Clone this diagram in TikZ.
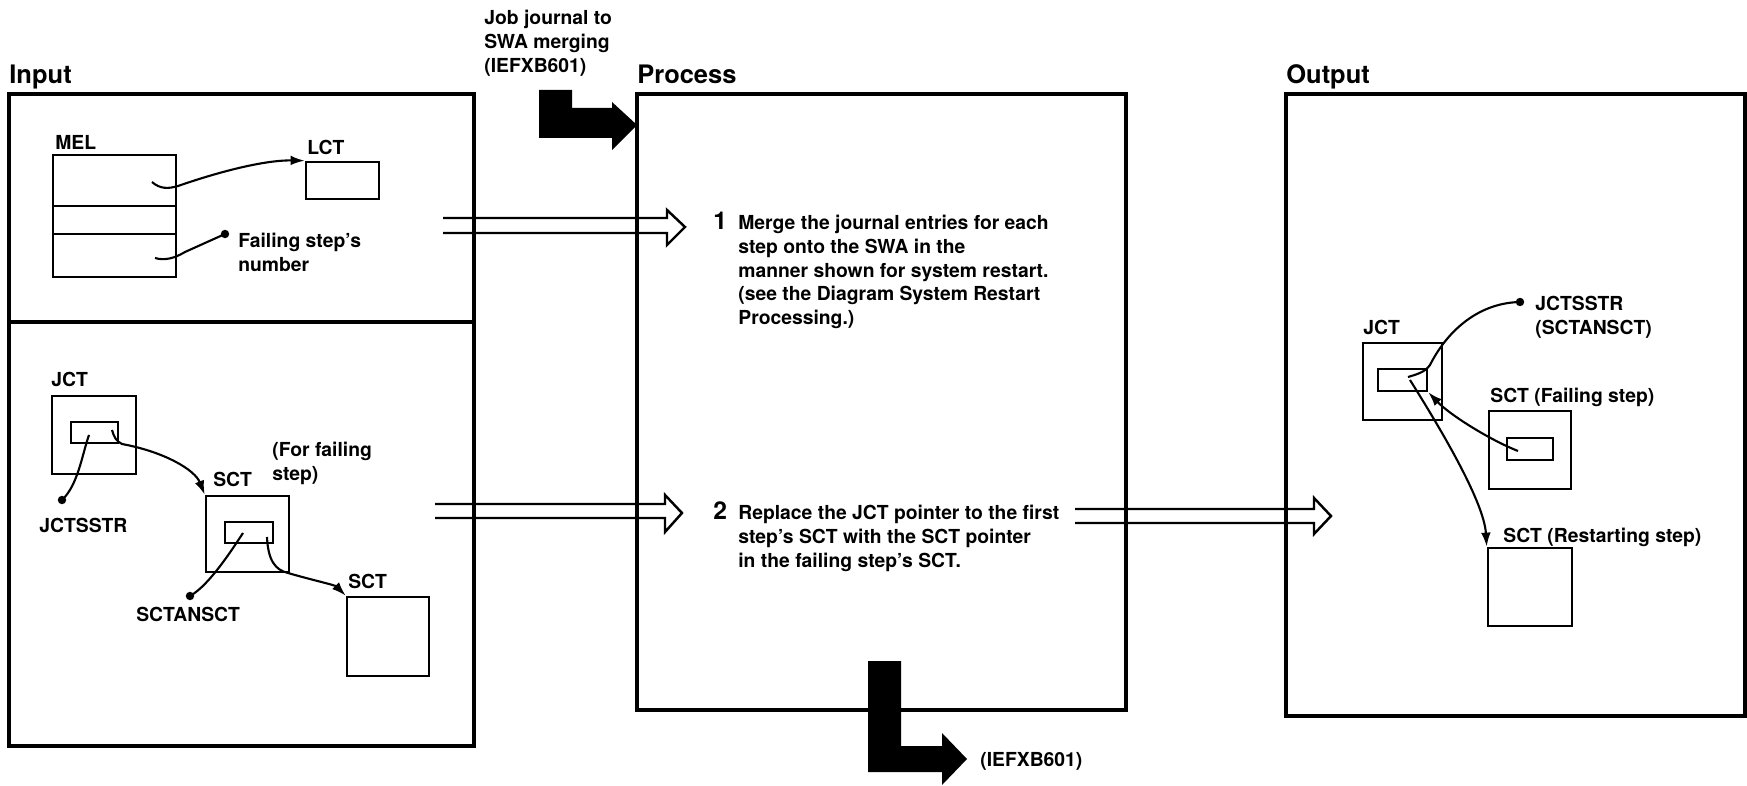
\documentclass[tikz,border=0pt]{standalone}
\usepackage{fontspec}
\setmainfont{TeX Gyre Heros}
\usepackage{tikz}
\usetikzlibrary{arrows.meta,fit}

\begin{document}
\begin{tikzpicture}[x=0.02cm,y=-0.02cm,>={Latex[length=8pt,width=5.5pt]},
  panel/.style={draw,line width=1.8pt,inner sep=0pt},
  blk/.style={draw,line width=1.5pt,inner sep=0pt},
  lbl/.style={font=\fontsize{11}{13.5}\selectfont\bfseries,inner sep=0pt,anchor=base west},
  txt/.style={font=\fontsize{11}{13.5}\selectfont\bfseries,inner sep=0pt,anchor=north west,align=left},
  heading/.style={font=\fontsize{14.5}{16}\selectfont\bfseries,inner sep=0pt,anchor=base west},
  stepno/.style={font=\fontsize{14}{15}\selectfont\bfseries,inner sep=0pt,anchor=base west},
  ptr/.style={line width=1.2pt},
  ptrdot/.style={circle,fill,inner sep=0pt,minimum size=4.8pt},
  hollow/.style={line width=1.4pt}]
  \useasboundingbox (0,0) rectangle (1747,786);

  \node[panel,fit={(9,94) (474,746)}] (inbox) {};
  \node[panel,fit={(637,94) (1126,710)}] (procbox) {};
  \node[panel,fit={(1286,94) (1745,716)}] (outbox) {};
  \draw[line width=1.8pt] (inbox.west |- 0,322) -- (inbox.east |- 0,322);
  \node[heading] (inlbl) at (9,84) {Input};
  \node[heading] (proclbl) at (637,84) {Process};
  \node[heading] (outlbl) at (1286,84) {Output};

  \node[txt] (jobjrnl) at (484,10) {Job journal to\\SWA merging\\(IEFXB601)};
  \coordinate (bl1) at (539,90);
  \fill (bl1) -- (572,90) -- (572,108) -- (612,108) -- (612,102) -- (637,125) -- (612,150) -- (612,138) -- (539,138) -- cycle;
  \coordinate (bl2) at (868,661);
  \fill (bl2) -- (901,661) -- (901,746) -- (942,746) -- (942,733) -- (967,759) -- (942,785) -- (942,772) -- (868,772) -- cycle;
  \node[lbl] (outmod) at (980,766) {(IEFXB601)};

  \node[lbl] (mellbl) at (55,150) {MEL};
  \node[blk,fit={(53,155) (176,277)}] (mel) {};
  \foreach \y in {206,234}
    \draw[line width=1.5pt] (mel.west |- 0,\y) -- (mel.east |- 0,\y);
  \node[lbl] (lctlbl) at (307,155) {LCT};
  \node[blk,fit={(306,162) (379,199)}] (lct) {};
  \coordinate (melp1) at (152,182);
  \draw[ptr,->] (melp1) .. controls (160,189) and (168,189) .. (178,186) .. controls (230,168) and (270,160) .. (lct.north west);
  \coordinate (melp2) at (155,258);
  \node[ptrdot] (fsdot) at (225,234) {};
  \draw[ptr] (melp2) .. controls (165,261) and (175,258) .. (185,252) -- (fsdot.center);
  \node[txt] (fslbl) at (238,233) {Failing step's\\number};

  \node[lbl] (jctinlbl) at (51,387) {JCT};
  \node[blk,fit={(52,396) (136,474)}] (jctin) {};
  \node[blk,fit={(71,422) (118,443)}] (jctinf) {};
  \node[lbl] (sctmlbl) at (213,487) {SCT};
  \node[txt] (forfail) at (272,442) {(For failing\\step)};
  \node[blk,fit={(206,496) (289,572)}] (sctm) {};
  \node[blk,fit={(225,522) (273,543)}] (sctmf) {};
  \node[lbl] (sctelbl) at (348,588) {SCT};
  \node[blk,fit={(347,597) (429,676)}] (scte) {};
  \coordinate (jctp1) at (112,430);
  \coordinate (jctp2) at (89,435);
  \draw[ptr,->] (jctp1) .. controls (114,437) and (116,441) .. (122,444) .. controls (165,452) and (195,470) .. (sctm.north west);
  \node[ptrdot] (jsdot) at (62,500) {};
  \draw[ptr] (jctp2) .. controls (82,455) and (78,485) .. (jsdot.center);
  \node[lbl] (jsstr) at (39,533) {JCTSSTR};
  \coordinate (sctp1) at (267,537);
  \coordinate (sctp2) at (243,533);
  \draw[ptr,->] (sctp1) .. controls (268,560) and (275,570) .. (288,573) .. controls (312,580) and (335,585) .. (scte.north west);
  \node[ptrdot] (sadot) at (190,596) {};
  \draw[ptr] (sctp2) .. controls (235,545) and (210,585) .. (sadot.center);
  \node[lbl] (sansct) at (136,622) {SCTANSCT};

  \coordinate (h1) at (443,218);
  \draw[hollow] (h1) -- ++(224,0) -- ++(0,-8) -- ++(18,17) -- ++(-18,18) -- ++(0,-12) -- ++(-224,0);
  \coordinate (h2) at (435,504);
  \draw[hollow] (h2) -- ++(230,0) -- ++(0,-9) -- ++(17,18) -- ++(-17,19) -- ++(0,-14) -- ++(-230,0);
  \coordinate (h3) at (1075,509);
  \draw[hollow] (h3) -- ++(239,0) -- ++(0,-11) -- ++(17,18) -- ++(-17,18) -- ++(0,-11) -- ++(-239,0);

  \node[stepno] (n1) at (713,230) {1};
  \node[txt] (step1) at (738,215) {Merge the journal entries for each\\step onto the SWA in the\\manner shown for system restart.\\(see the Diagram System Restart\\Processing.)};
  \node[stepno] (n2) at (713,520) {2};
  \node[txt] (step2) at (738,505) {Replace the JCT pointer to the first\\step's SCT with the SCT pointer\\in the failing step's SCT.};

  \node[lbl] (jctoutlbl) at (1363,335) {JCT};
  \node[blk,fit={(1363,343) (1442,420)}] (jctout) {};
  \node[blk,fit={(1378,369) (1427,391)}] (jctoutf) {};
  \node[ptrdot] (jodot) at (1520,302) {};
  \node[txt] (jolbl) at (1535,296) {JCTSSTR\\(SCTANSCT)};
  \coordinate (jop1) at (1408,377);
  \coordinate (jop2) at (1410,380);
  \draw[ptr] (jop1) .. controls (1418,374) and (1425,372) .. (1430,365) .. controls (1445,335) and (1475,303) .. (jodot.center);
  \node[lbl] (sctflbl) at (1490,403) {SCT (Failing step)};
  \node[blk,fit={(1489,411) (1571,489)}] (sctf) {};
  \node[blk,fit={(1507,438) (1553,460)}] (sctff) {};
  \coordinate (sfp) at (1518,451);
  \draw[ptr,->] (sfp) .. controls (1490,440) and (1450,415) .. (jctoutf.south east);
  \node[lbl] (sctrlbl) at (1503,543) {SCT (Restarting step)};
  \node[blk,fit={(1488,548) (1572,626)}] (sctr) {};
  \draw[ptr,->] (jop2) .. controls (1435,420) and (1484,500) .. (sctr.north west);
\end{tikzpicture}
\end{document}
